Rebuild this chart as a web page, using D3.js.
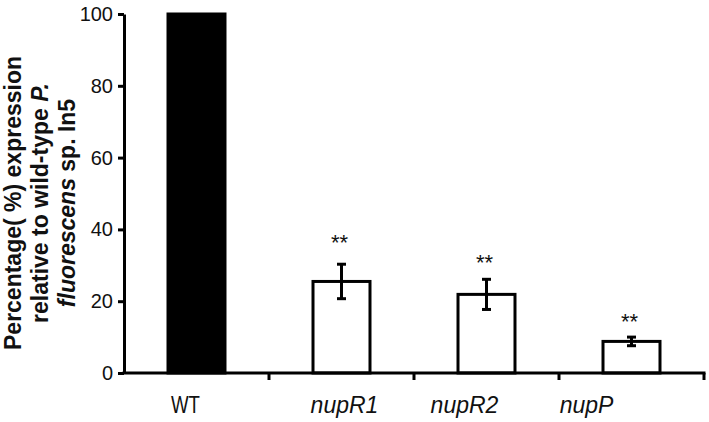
<!DOCTYPE html>
<html>
<head>
<meta charset="utf-8">
<script src="https://cdn.jsdelivr.net/npm/d3@7"></script>
<style>
  body { margin: 0; background: #fff; }
  svg { display: block; font-family: Arial, "Liberation Sans", sans-serif; }
</style>
</head>
<body>
<svg id="chart" width="709" height="422"></svg>
<script>
// data
const groups = ["WT", "nupR1", "nupR2", "nupP"];
const means = [100, 25.5, 21.9, 8.8];
const errors = [0, 4.8, 4.2, 1.2];
const stars = ["", "**", "**", "**"];
const starLevel = [0, 34.2, 28.6, 12.2];
const yTicks = [0, 20, 40, 60, 80, 100];

const svg = d3.select("#chart");
const x0 = 124, x1 = 704, yTop = 14, yBase = 373;

const x = d3.scaleBand()
  .domain(groups)
  .range([x0, x1])
  .paddingInner(0.607)
  .paddingOuter(0.3035);

const y = d3.scaleLinear().domain([0, 100]).range([yBase, yTop]);

// bars
svg.append("g")
  .selectAll("rect")
  .data(groups)
  .enter()
  .append("rect")
  .attr("x", (d) => x(d))
  .attr("width", x.bandwidth())
  .attr("y", (d, i) => y(means[i]))
  .attr("height", (d, i) => yBase - y(means[i]))
  .attr("fill", (d, i) => (i === 0 ? "#000" : "#fff"))
  .attr("stroke", "#000")
  .attr("stroke-width", 3);

// error bars
const eb = svg.append("g").attr("stroke", "#000").attr("stroke-width", 3);
groups.forEach((g, i) => {
  if (!errors[i]) return;
  const cx = x(g) + x.bandwidth() / 2;
  const hi = y(means[i] + errors[i]);
  const lo = y(means[i] - errors[i]);
  eb.append("line").attr("x1", cx).attr("x2", cx).attr("y1", hi).attr("y2", lo);
  eb.append("line").attr("x1", cx - 4.5).attr("x2", cx + 4.5).attr("y1", hi).attr("y2", hi);
  eb.append("line").attr("x1", cx - 4.5).attr("x2", cx + 4.5).attr("y1", lo).attr("y2", lo);
});

// significance stars
svg.append("g")
  .selectAll("text")
  .data(groups)
  .enter()
  .append("text")
  .attr("x", (d) => x(d) + x.bandwidth() / 2 - 2)
  .attr("y", (d, i) => y(starLevel[i]))
  .attr("text-anchor", "middle")
  .style("font-size", "22px")
  .attr("fill", "#111")
  .text((d, i) => stars[i]);

// y-axis
const yAxis = svg.append("g")
  .attr("transform", `translate(${x0}, 0)`)
  .call(d3.axisLeft(y).tickValues(yTicks).tickSize(6).tickSizeOuter(0).tickPadding(5));
yAxis.select(".domain").attr("stroke-width", 3);
yAxis.selectAll(".tick line").attr("stroke-width", 3);
yAxis.selectAll(".tick text")
  .style("font-size", "20px")
  .style("font-family", "Arial, 'Liberation Sans', sans-serif")
  .attr("fill", "#111");

// x-axis (ticks between categories)
const xa = svg.append("g").attr("stroke", "#000").attr("stroke-width", 3);
xa.append("line").attr("x1", x0 - 1.5).attr("x2", x1 + 1.5).attr("y1", yBase).attr("y2", yBase);
groups.forEach((g, i) => {
  const tx = x(g) + x.bandwidth() / 2 + x.step() / 2;
  xa.append("line").attr("x1", tx).attr("x2", tx).attr("y1", yBase).attr("y2", yBase + 7);
});

// category labels
const labelDx = [-11, 3, -22, -45];
svg.append("g")
  .selectAll("text")
  .data(groups)
  .enter()
  .append("text")
  .attr("x", (d, i) => x(d) + x.bandwidth() / 2 + labelDx[i])
  .attr("y", 413)
  .attr("text-anchor", "middle")
  .style("font-size", "23px")
  .style("font-style", (d, i) => (i === 0 ? "normal" : "italic"))
  .attr("fill", "#111")
  .each(function (d, i) {
    if (i === 0) d3.select(this).attr("textLength", 29).attr("lengthAdjust", "spacingAndGlyphs");
  })
  .text((d) => d);

// y title
const title = svg.append("text")
  .attr("transform", "translate(0, 203) rotate(-90)")
  .attr("text-anchor", "middle")
  .style("font-size", "23px")
  .style("font-weight", "bold")
  .attr("fill", "#111");
title.append("tspan").attr("x", 0).attr("y", 21).text("Percentage( %) expression");
const l2 = title.append("tspan").attr("x", 0).attr("y", 48);
l2.append("tspan").text("relative to wild-type ");
l2.append("tspan").style("font-style", "italic").text("P.");
const l3 = title.append("tspan").attr("x", 0).attr("y", 75);
l3.append("tspan").style("font-style", "italic").text("fluorescens");
l3.append("tspan").text(" sp. In5");
</script>
</body>
</html>
